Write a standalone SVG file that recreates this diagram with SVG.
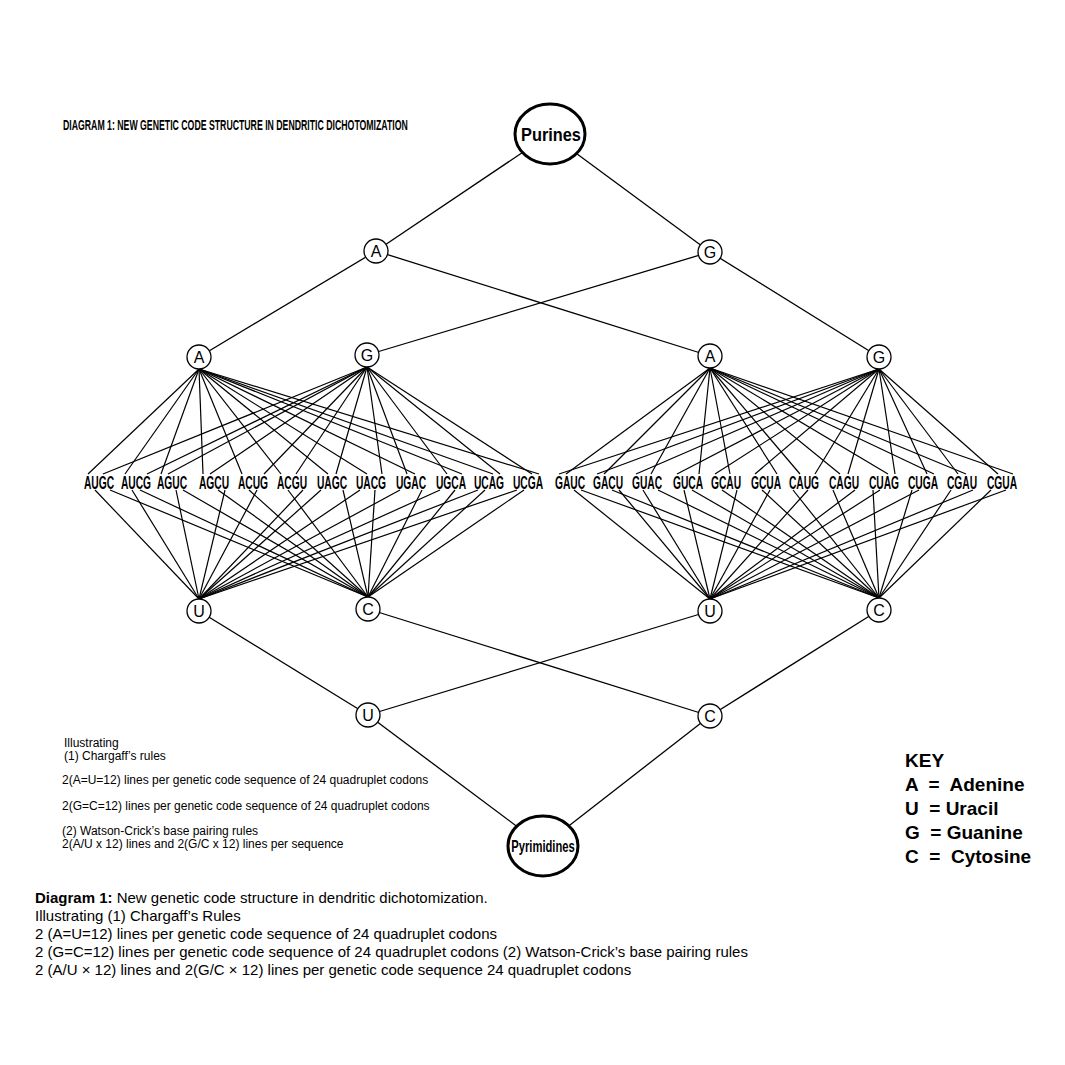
<svg xmlns="http://www.w3.org/2000/svg" width="1065" height="1065" viewBox="0 0 1065 1065">
<style>
.ln{stroke:#000;stroke-width:1.3;fill:none}
.cl{stroke:#000;stroke-width:1.2;fill:none}
.nd{fill:#fff;stroke:#000;stroke-width:1.3}
.big{fill:#fff;stroke:#000;stroke-width:3}
.nt{font-family:"Liberation Sans",Arial,sans-serif;font-size:16px;text-anchor:middle;fill:#000}
.cd text{font-family:"Liberation Sans",Arial,sans-serif;font-size:19px;font-weight:bold;text-anchor:middle;fill:#000}
.sm{font-family:"Liberation Sans",Arial,sans-serif;font-size:12px;fill:#000}
.key{font-family:"Liberation Sans",Arial,sans-serif;font-size:19px;font-weight:bold;fill:#000;white-space:pre}
.cap{font-family:"Liberation Sans",Arial,sans-serif;font-size:15px;fill:#000}
</style>
<rect width="1065" height="1065" fill="#fff"/>
<text transform="translate(63,130) scale(0.624,1)" font-family="Liberation Sans,Arial,sans-serif" font-size="14" font-weight="bold">DIAGRAM 1: NEW GENETIC CODE STRUCTURE IN DENDRITIC DICHOTOMIZATION</text>
<g id="connectors">
<g id="tree">
<line class="ln" x1="550" y1="134" x2="376" y2="251"/>
<line class="ln" x1="550" y1="134" x2="710" y2="252"/>
<line class="ln" x1="376" y1="251" x2="199" y2="357"/>
<line class="ln" x1="376" y1="251" x2="710" y2="356"/>
<line class="ln" x1="710" y1="252" x2="367" y2="355"/>
<line class="ln" x1="710" y1="252" x2="879" y2="357"/>
<line class="ln" x1="199" y1="611" x2="368" y2="715"/>
<line class="ln" x1="368" y1="609" x2="710" y2="716"/>
<line class="ln" x1="710" y1="611" x2="368" y2="715"/>
<line class="ln" x1="879" y1="610" x2="710" y2="716"/>
<line class="ln" x1="368" y1="715" x2="543" y2="846"/>
<line class="ln" x1="710" y1="716" x2="543" y2="846"/>
</g>
<g id="left-A-lines">
<line class="cl" x1="199" y1="369" x2="88" y2="474"/>
<line class="cl" x1="199" y1="369" x2="125" y2="474"/>
<line class="cl" x1="199" y1="369" x2="161" y2="474"/>
<line class="cl" x1="199" y1="369" x2="203" y2="474"/>
<line class="cl" x1="199" y1="369" x2="242" y2="474"/>
<line class="cl" x1="199" y1="369" x2="281" y2="474"/>
<line class="cl" x1="199" y1="369" x2="328" y2="474"/>
<line class="cl" x1="199" y1="369" x2="367" y2="474"/>
<line class="cl" x1="199" y1="369" x2="415" y2="474"/>
<line class="cl" x1="199" y1="369" x2="462" y2="474"/>
<line class="cl" x1="199" y1="369" x2="493" y2="474"/>
<line class="cl" x1="199" y1="369" x2="539" y2="474"/>
</g>
<g id="left-G-lines">
<line class="cl" x1="367" y1="367" x2="103" y2="474"/>
<line class="cl" x1="367" y1="367" x2="147" y2="474"/>
<line class="cl" x1="367" y1="367" x2="168" y2="474"/>
<line class="cl" x1="367" y1="367" x2="210" y2="474"/>
<line class="cl" x1="367" y1="367" x2="264" y2="474"/>
<line class="cl" x1="367" y1="367" x2="296" y2="474"/>
<line class="cl" x1="367" y1="367" x2="336" y2="474"/>
<line class="cl" x1="367" y1="367" x2="382" y2="474"/>
<line class="cl" x1="367" y1="367" x2="407" y2="474"/>
<line class="cl" x1="367" y1="367" x2="447" y2="474"/>
<line class="cl" x1="367" y1="367" x2="500" y2="474"/>
<line class="cl" x1="367" y1="367" x2="532" y2="474"/>
</g>
<g id="left-U-lines">
<line class="cl" x1="199" y1="599" x2="95" y2="490"/>
<line class="cl" x1="199" y1="599" x2="132" y2="490"/>
<line class="cl" x1="199" y1="599" x2="176" y2="490"/>
<line class="cl" x1="199" y1="599" x2="225" y2="490"/>
<line class="cl" x1="199" y1="599" x2="257" y2="490"/>
<line class="cl" x1="199" y1="599" x2="303" y2="490"/>
<line class="cl" x1="199" y1="599" x2="321" y2="490"/>
<line class="cl" x1="199" y1="599" x2="360" y2="490"/>
<line class="cl" x1="199" y1="599" x2="400" y2="490"/>
<line class="cl" x1="199" y1="599" x2="440" y2="490"/>
<line class="cl" x1="199" y1="599" x2="478" y2="490"/>
<line class="cl" x1="199" y1="599" x2="517" y2="490"/>
</g>
<g id="left-C-lines">
<line class="cl" x1="368" y1="597" x2="110" y2="490"/>
<line class="cl" x1="368" y1="597" x2="140" y2="490"/>
<line class="cl" x1="368" y1="597" x2="183" y2="490"/>
<line class="cl" x1="368" y1="597" x2="218" y2="490"/>
<line class="cl" x1="368" y1="597" x2="249" y2="490"/>
<line class="cl" x1="368" y1="597" x2="288" y2="490"/>
<line class="cl" x1="368" y1="597" x2="343" y2="490"/>
<line class="cl" x1="368" y1="597" x2="375" y2="490"/>
<line class="cl" x1="368" y1="597" x2="422" y2="490"/>
<line class="cl" x1="368" y1="597" x2="455" y2="490"/>
<line class="cl" x1="368" y1="597" x2="485" y2="490"/>
<line class="cl" x1="368" y1="597" x2="524" y2="490"/>
</g>
<g id="right-A-lines">
<line class="cl" x1="710" y1="368" x2="566" y2="474"/>
<line class="cl" x1="710" y1="368" x2="604" y2="474"/>
<line class="cl" x1="710" y1="368" x2="651" y2="474"/>
<line class="cl" x1="710" y1="368" x2="699" y2="474"/>
<line class="cl" x1="710" y1="368" x2="730" y2="474"/>
<line class="cl" x1="710" y1="368" x2="777" y2="474"/>
<line class="cl" x1="710" y1="368" x2="800" y2="474"/>
<line class="cl" x1="710" y1="368" x2="840" y2="474"/>
<line class="cl" x1="710" y1="368" x2="888" y2="474"/>
<line class="cl" x1="710" y1="368" x2="934" y2="474"/>
<line class="cl" x1="710" y1="368" x2="966" y2="474"/>
<line class="cl" x1="710" y1="368" x2="1013" y2="474"/>
</g>
<g id="right-G-lines">
<line class="cl" x1="879" y1="369" x2="559" y2="474"/>
<line class="cl" x1="879" y1="369" x2="597" y2="474"/>
<line class="cl" x1="879" y1="369" x2="636" y2="474"/>
<line class="cl" x1="879" y1="369" x2="677" y2="474"/>
<line class="cl" x1="879" y1="369" x2="715" y2="474"/>
<line class="cl" x1="879" y1="369" x2="755" y2="474"/>
<line class="cl" x1="879" y1="369" x2="815" y2="474"/>
<line class="cl" x1="879" y1="369" x2="848" y2="474"/>
<line class="cl" x1="879" y1="369" x2="895" y2="474"/>
<line class="cl" x1="879" y1="369" x2="927" y2="474"/>
<line class="cl" x1="879" y1="369" x2="958" y2="474"/>
<line class="cl" x1="879" y1="369" x2="998" y2="474"/>
</g>
<g id="right-U-lines">
<line class="cl" x1="710" y1="599" x2="574" y2="490"/>
<line class="cl" x1="710" y1="599" x2="619" y2="490"/>
<line class="cl" x1="710" y1="599" x2="643" y2="490"/>
<line class="cl" x1="710" y1="599" x2="684" y2="490"/>
<line class="cl" x1="710" y1="599" x2="737" y2="490"/>
<line class="cl" x1="710" y1="599" x2="770" y2="490"/>
<line class="cl" x1="710" y1="599" x2="808" y2="490"/>
<line class="cl" x1="710" y1="599" x2="855" y2="490"/>
<line class="cl" x1="710" y1="599" x2="880" y2="490"/>
<line class="cl" x1="710" y1="599" x2="919" y2="490"/>
<line class="cl" x1="710" y1="599" x2="973" y2="490"/>
<line class="cl" x1="710" y1="599" x2="1006" y2="490"/>
</g>
<g id="right-C-lines">
<line class="cl" x1="879" y1="598" x2="581" y2="490"/>
<line class="cl" x1="879" y1="598" x2="612" y2="490"/>
<line class="cl" x1="879" y1="598" x2="658" y2="490"/>
<line class="cl" x1="879" y1="598" x2="692" y2="490"/>
<line class="cl" x1="879" y1="598" x2="722" y2="490"/>
<line class="cl" x1="879" y1="598" x2="762" y2="490"/>
<line class="cl" x1="879" y1="598" x2="793" y2="490"/>
<line class="cl" x1="879" y1="598" x2="833" y2="490"/>
<line class="cl" x1="879" y1="598" x2="873" y2="490"/>
<line class="cl" x1="879" y1="598" x2="912" y2="490"/>
<line class="cl" x1="879" y1="598" x2="951" y2="490"/>
<line class="cl" x1="879" y1="598" x2="991" y2="490"/>
</g>
</g>
<g id="purines"><ellipse class="big" cx="550" cy="134" rx="35" ry="30"/><text transform="translate(551,141) scale(0.86,1)" font-family="Liberation Sans,Arial,sans-serif" font-size="19" font-weight="bold" text-anchor="middle">Purines</text></g>
<g id="pyrimidines"><ellipse class="big" cx="543" cy="846" rx="35" ry="30"/><text transform="translate(543,852) scale(0.68,1)" font-family="Liberation Sans,Arial,sans-serif" font-size="16.5" font-weight="bold" text-anchor="middle">Pyrimidines</text></g>
<g id="n-A1"><circle class="nd" cx="376" cy="251" r="12"/><text class="nt" x="376" y="257">A</text></g>
<g id="n-G1"><circle class="nd" cx="710" cy="252" r="12"/><text class="nt" x="710" y="258">G</text></g>
<g id="n-A2L"><circle class="nd" cx="199" cy="357" r="12"/><text class="nt" x="199" y="363">A</text></g>
<g id="n-G2L"><circle class="nd" cx="367" cy="355" r="12"/><text class="nt" x="367" y="361">G</text></g>
<g id="n-A2R"><circle class="nd" cx="710" cy="356" r="12"/><text class="nt" x="710" y="362">A</text></g>
<g id="n-G2R"><circle class="nd" cx="879" cy="357" r="12"/><text class="nt" x="879" y="363">G</text></g>
<g id="n-U3L"><circle class="nd" cx="199" cy="611" r="12"/><text class="nt" x="199" y="617">U</text></g>
<g id="n-C3L"><circle class="nd" cx="368" cy="609" r="12"/><text class="nt" x="368" y="615">C</text></g>
<g id="n-U3R"><circle class="nd" cx="710" cy="611" r="12"/><text class="nt" x="710" y="617">U</text></g>
<g id="n-C3R"><circle class="nd" cx="879" cy="610" r="12"/><text class="nt" x="879" y="616">C</text></g>
<g id="n-U4"><circle class="nd" cx="368" cy="715" r="12"/><text class="nt" x="368" y="721">U</text></g>
<g id="n-C4"><circle class="nd" cx="710" cy="716" r="12"/><text class="nt" x="710" y="722">C</text></g>
<g id="codons" class="cd">
<text transform="translate(99,489) scale(0.54,1)">AUGC</text>
<text transform="translate(136,489) scale(0.54,1)">AUCG</text>
<text transform="translate(172,489) scale(0.54,1)">AGUC</text>
<text transform="translate(214,489) scale(0.54,1)">AGCU</text>
<text transform="translate(253,489) scale(0.54,1)">ACUG</text>
<text transform="translate(292,489) scale(0.54,1)">ACGU</text>
<text transform="translate(332,489) scale(0.54,1)">UAGC</text>
<text transform="translate(371,489) scale(0.54,1)">UACG</text>
<text transform="translate(411,489) scale(0.54,1)">UGAC</text>
<text transform="translate(451,489) scale(0.54,1)">UGCA</text>
<text transform="translate(489,489) scale(0.54,1)">UCAG</text>
<text transform="translate(528,489) scale(0.54,1)">UCGA</text>
<text transform="translate(570,489) scale(0.54,1)">GAUC</text>
<text transform="translate(608,489) scale(0.54,1)">GACU</text>
<text transform="translate(647,489) scale(0.54,1)">GUAC</text>
<text transform="translate(688,489) scale(0.54,1)">GUCA</text>
<text transform="translate(726,489) scale(0.54,1)">GCAU</text>
<text transform="translate(766,489) scale(0.54,1)">GCUA</text>
<text transform="translate(804,489) scale(0.54,1)">CAUG</text>
<text transform="translate(844,489) scale(0.54,1)">CAGU</text>
<text transform="translate(884,489) scale(0.54,1)">CUAG</text>
<text transform="translate(923,489) scale(0.54,1)">CUGA</text>
<text transform="translate(962,489) scale(0.54,1)">CGAU</text>
<text transform="translate(1002,489) scale(0.54,1)">CGUA</text>
</g>
<g id="notes" class="sm">
<text x="64" y="747">Illustrating</text>
<text x="64" y="760">(1) Chargaff’s rules</text>
<text x="62" y="784">2(A=U=12) lines per genetic code sequence of 24 quadruplet codons</text>
<text x="62" y="810">2(G=C=12) lines per genetic code sequence of 24 quadruplet codons</text>
<text x="62" y="835">(2) Watson-Crick’s base pairing rules</text>
<text x="62" y="848">2(A/U x 12) lines and 2(G/C x 12) lines per sequence</text>
</g>
<g id="key" class="key">
<text x="905" y="767">KEY</text>
<text x="905" y="791" xml:space="preserve">A  =  Adenine</text>
<text x="905" y="815" xml:space="preserve">U  = Uracil</text>
<text x="905" y="839" xml:space="preserve">G  = Guanine</text>
<text x="905" y="863" xml:space="preserve">C  =  Cytosine</text>
</g>
<g id="caption" class="cap">
<text x="35" y="903"><tspan font-weight="bold">Diagram 1:</tspan> New genetic code structure in dendritic dichotomization.</text>
<text x="35" y="921">Illustrating (1) Chargaff’s Rules</text>
<text x="35" y="939">2 (A=U=12) lines per genetic code sequence of 24 quadruplet codons</text>
<text x="35" y="957">2 (G=C=12) lines per genetic code sequence of 24 quadruplet codons (2) Watson-Crick’s base pairing rules</text>
<text x="35" y="975">2 (A/U × 12) lines and 2(G/C × 12) lines per genetic code sequence 24 quadruplet codons</text>
</g>
</svg>
